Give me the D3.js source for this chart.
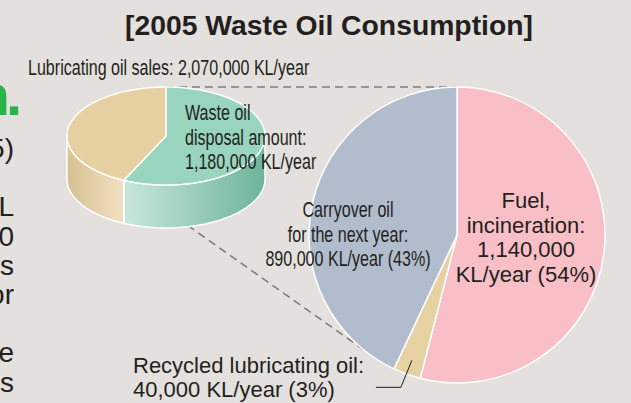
<!DOCTYPE html>
<html>
<head>
<meta charset="utf-8">
<script src="https://cdn.jsdelivr.net/npm/d3@7"></script>
<style>
  body { margin: 0; background: #e4e0dd; }
  svg { display: block; font-family: "Liberation Sans", Arial, sans-serif; }
</style>
</head>
<body>
<div id="chart"></div>
<script>
// lubricating oil sales split (KL/year)
const salesLabels = ["Waste oil disposal amount", "Remainder"];
const salesValues = [1180000, 890000];
const salesColors = ["#98d4be", "#e6d0a2"];

// how the waste oil is consumed (%)
const useLabels = ["Fuel, incineration", "Recycled lubricating oil", "Carryover oil for the next year"];
const useValues = [54, 3, 43];
const useColors = ["#f8bfc7", "#e6d1a3", "#b1bccd"];

// fragments of the page text left of the chart
const sideLines = ["5)", "", "L", "0", "s", "or", "", "e", "s"];

const width = 631, height = 403;
const ink = "#231f20";
const squeeze = 0.73;

const svg = d3.select("#chart")
  .append("svg")
  .attr("width", width)
  .attr("height", height);

const defs = svg.append("defs");

// small 3D pie
const sp = { cx: 166, cy: 136, rx: 99, ry: 49, depth: 43 };
const ell = (t, dy = 0) => [sp.cx + sp.rx * Math.sin(t), sp.cy - sp.ry * Math.cos(t) + dy];

const pie = d3.pie().sort(null);
const salesArcs = pie(salesValues);

function arcPoints(a, b, dy) {
  const n = 60, pts = [];
  for (let i = 0; i <= n; i++) pts.push(ell(a + (b - a) * i / n, dy));
  return pts;
}

// big pie
const bp = { cx: 457, cy: 235, r: 148 };
const useArcs = pie(useValues);
const arc = d3.arc().innerRadius(0).outerRadius(bp.r);
const bigPoint = (t, r = bp.r) => [bp.cx + r * Math.sin(t), bp.cy - r * Math.cos(t)];

// side gradients
const sideGrads = [
  { id: "gGreen", x1: ell(salesArcs[0].endAngle)[0], x2: sp.cx + sp.rx, c1: "#c9e7dc", c2: "#6db59a" },
  { id: "gBeige", x1: ell(salesArcs[0].endAngle)[0], x2: sp.cx - sp.rx, c1: "#f1e0c3", c2: "#d6c190" }
];
sideGrads.forEach(g => {
  const lg = defs.append("linearGradient").attr("id", g.id)
    .attr("gradientUnits", "userSpaceOnUse")
    .attr("x1", g.x1).attr("x2", g.x2).attr("y1", 0).attr("y2", 0);
  lg.append("stop").attr("offset", 0).attr("stop-color", g.c1);
  lg.append("stop").attr("offset", 1).attr("stop-color", g.c2);
});

// connector dashed lines; the lower one meets the rim a little past the recycled slice
const dash = svg.append("g")
  .attr("stroke", "#7d7b7b").attr("stroke-width", 1.6)
  .attr("stroke-dasharray", "8,5").attr("fill", "none");
const seam = ell(salesArcs[0].endAngle);
[[ell(0), bigPoint(0)],
 [seam, bigPoint(useArcs[1].endAngle + 0.25)]].forEach(([p, q]) => {
  dash.append("line").attr("x1", p[0]).attr("y1", p[1]).attr("x2", q[0]).attr("y2", q[1]);
});

const small = svg.append("g");

// side walls, front half only
salesArcs.forEach((d, i) => {
  const a = Math.max(d.startAngle, Math.PI / 2);
  const b = Math.min(d.endAngle, Math.PI * 1.5);
  if (a >= b) return;
  const pts = arcPoints(a, b, 0).concat(arcPoints(b, a, sp.depth));
  small.append("path")
    .attr("d", d3.line()(pts) + "Z")
    .attr("fill", `url(#${sideGrads[i].id})`)
    .attr("stroke", "#fff").attr("stroke-width", 1.5)
    .attr("stroke-linejoin", "round");
});

// top faces
salesArcs.forEach((d, i) => {
  const pts = [[sp.cx, sp.cy]].concat(arcPoints(d.startAngle, d.endAngle, 0));
  small.append("path")
    .attr("d", d3.line()(pts) + "Z")
    .attr("fill", salesColors[i])
    .attr("stroke", "#fff").attr("stroke-width", 1.5)
    .attr("stroke-linejoin", "round");
});

// big pie
svg.append("g")
  .attr("transform", `translate(${bp.cx},${bp.cy})`)
  .selectAll("path")
  .data(useArcs)
  .join("path")
  .attr("d", arc)
  .attr("fill", (d, i) => useColors[i])
  .attr("stroke", "#fff")
  .attr("stroke-width", 1.5);

// leader for the thin recycled slice
const mid = (useArcs[1].startAngle + useArcs[1].endAngle) / 2;
const lp = bigPoint(mid, bp.r * 0.9);
svg.append("path")
  .attr("d", d3.line()([lp, [lp[0] - 11, lp[1] + 27], [lp[0] - 36, lp[1] + 27]]))
  .attr("fill", "none").attr("stroke", ink).attr("stroke-width", 1);

// text helpers
function label(x, y, str, opts = {}) {
  const t = svg.append("text")
    .attr("x", x).attr("y", y)
    .attr("fill", opts.fill || ink)
    .attr("font-size", opts.size || 22)
    .attr("font-weight", opts.weight || "normal")
    .attr("text-anchor", opts.anchor || "start")
    .text(str);
  if (opts.condensed) {
    const w = t.node().getComputedTextLength();
    t.attr("textLength", w * squeeze).attr("lengthAdjust", "spacingAndGlyphs");
  }
  if (opts.len) t.attr("textLength", opts.len).attr("lengthAdjust", "spacingAndGlyphs");
  return t;
}
function block(x, y, lines, step, opts) {
  lines.forEach((s, i) => label(x, y + i * step, s, opts));
}

label(329, 35, "[2005 Waste Oil Consumption]", { size: 27, weight: "bold", anchor: "middle", len: 408 });
label(28, 75, "Lubricating oil sales: 2,070,000 KL/year", { condensed: true });

block(185, 120, ["Waste oil", "disposal amount:", "1,180,000 KL/year"], 24.5, { condensed: true });
block(348, 217, ["Carryover oil", "for the next year:", "890,000 KL/year (43%)"], 24.5,
  { condensed: true, anchor: "middle" });
block(526, 208, ["Fuel,", "incineration:", "1,140,000", "KL/year (54%)"], 24.7, { anchor: "middle" });
block(133, 373, ["Recycled lubricating oil:", "40,000 KL/year (3%)"], 23.5, {});

// page fragments at the left edge
label(10, 115, "n", { size: 58, weight: "bold", anchor: "end", fill: "#2bb34b" });
label(6, 115, ".", { size: 58, weight: "bold", anchor: "start", fill: "#2bb34b" });
block(14, 158, sideLines, 29.2, { size: 28, anchor: "end" });
</script>
</body>
</html>
